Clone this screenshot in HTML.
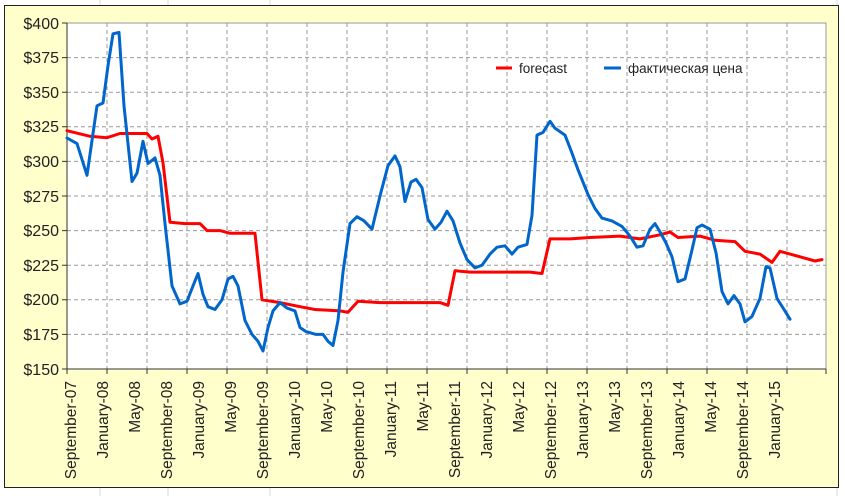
<!DOCTYPE html>
<html><head><meta charset="utf-8"><style>
html,body{margin:0;padding:0;background:#fff;}
svg{display:block;font-family:"Liberation Sans","Noto Sans CJK SC",sans-serif;}
</style></head><body>
<svg width="845" height="496" viewBox="0 0 845 496" xmlns="http://www.w3.org/2000/svg">
<rect x="0" y="0" width="845" height="496" fill="#fff"/>
<g stroke="#d8d8d8" stroke-width="1">
<line x1="100" y1="0" x2="100" y2="496"/><line x1="168" y1="0" x2="168" y2="496"/><line x1="270" y1="0" x2="270" y2="496"/><line x1="837" y1="0" x2="837" y2="496"/>
</g>
<rect x="4.5" y="5.5" width="834" height="482" fill="#FFFFCC" stroke="#222" stroke-width="1"/>
<rect x="67" y="23" width="759" height="346" fill="#fff" stroke="#999" stroke-width="1"/>
<g stroke="#999" stroke-dasharray="4,3" stroke-width="1">
<line x1="67" y1="57.6" x2="826" y2="57.6"/><line x1="67" y1="92.2" x2="826" y2="92.2"/><line x1="67" y1="126.8" x2="826" y2="126.8"/><line x1="67" y1="161.4" x2="826" y2="161.4"/><line x1="67" y1="196" x2="826" y2="196"/><line x1="67" y1="230.6" x2="826" y2="230.6"/><line x1="67" y1="265.2" x2="826" y2="265.2"/><line x1="67" y1="299.8" x2="826" y2="299.8"/><line x1="67" y1="334.4" x2="826" y2="334.4"/>
<line x1="107" y1="23" x2="107" y2="369"/><line x1="147" y1="23" x2="147" y2="369"/><line x1="187" y1="23" x2="187" y2="369"/><line x1="227" y1="23" x2="227" y2="369"/><line x1="267" y1="23" x2="267" y2="369"/><line x1="307" y1="23" x2="307" y2="369"/><line x1="347" y1="23" x2="347" y2="369"/><line x1="387" y1="23" x2="387" y2="369"/><line x1="427" y1="23" x2="427" y2="369"/><line x1="467" y1="23" x2="467" y2="369"/><line x1="507" y1="23" x2="507" y2="369"/><line x1="547" y1="23" x2="547" y2="369"/><line x1="587" y1="23" x2="587" y2="369"/><line x1="627" y1="23" x2="627" y2="369"/><line x1="667" y1="23" x2="667" y2="369"/><line x1="707" y1="23" x2="707" y2="369"/><line x1="747" y1="23" x2="747" y2="369"/><line x1="787" y1="23" x2="787" y2="369"/>
</g>
<g stroke="#333" stroke-width="1">
<line x1="67" y1="23" x2="67" y2="369"/><line x1="67" y1="369" x2="826" y2="369"/>
<path d="M62 23H67M62 57.6H67M62 92.2H67M62 126.8H67M62 161.4H67M62 196H67M62 230.6H67M62 265.2H67M62 299.8H67M62 334.4H67M62 369H67"/>
<path d="M67 369V374M107 369V374M147 369V374M187 369V374M227 369V374M267 369V374M307 369V374M347 369V374M387 369V374M427 369V374M467 369V374M507 369V374M547 369V374M587 369V374M627 369V374M667 369V374M707 369V374M747 369V374M787 369V374M826 369V374"/>
</g>
<g font-size="16" fill="#222" text-anchor="end">
<text x="59" y="29">$400</text><text x="59" y="63">$375</text><text x="59" y="98">$350</text><text x="59" y="132">$325</text><text x="59" y="167">$300</text><text x="59" y="202">$275</text><text x="59" y="236">$250</text><text x="59" y="271">$225</text><text x="59" y="305">$200</text><text x="59" y="340">$175</text><text x="59" y="375">$150</text>
</g>
<g font-size="15.5" fill="#222" text-anchor="end">
<text transform="translate(76,381) rotate(-90)">September-07</text>
<text transform="translate(108,381) rotate(-90)">January-08</text>
<text transform="translate(140,381) rotate(-90)">May-08</text>
<text transform="translate(172,381) rotate(-90)">September-08</text>
<text transform="translate(204,381) rotate(-90)">January-09</text>
<text transform="translate(236,381) rotate(-90)">May-09</text>
<text transform="translate(268,381) rotate(-90)">September-09</text>
<text transform="translate(300,381) rotate(-90)">January-10</text>
<text transform="translate(332,381) rotate(-90)">May-10</text>
<text transform="translate(364,381) rotate(-90)">September-10</text>
<text transform="translate(396,381) rotate(-90)">January-11</text>
<text transform="translate(428,381) rotate(-90)">May-11</text>
<text transform="translate(460,381) rotate(-90)">September-11</text>
<text transform="translate(492,381) rotate(-90)">January-12</text>
<text transform="translate(524,381) rotate(-90)">May-12</text>
<text transform="translate(556,381) rotate(-90)">September-12</text>
<text transform="translate(588,381) rotate(-90)">January-13</text>
<text transform="translate(620,381) rotate(-90)">May-13</text>
<text transform="translate(652,381) rotate(-90)">September-13</text>
<text transform="translate(684,381) rotate(-90)">January-14</text>
<text transform="translate(716,381) rotate(-90)">May-14</text>
<text transform="translate(748,381) rotate(-90)">September-14</text>
<text transform="translate(780,381) rotate(-90)">January-15</text>
</g>
<polyline fill="none" stroke="#ff0000" stroke-width="3" stroke-linejoin="round" stroke-linecap="round"
points="67,130.7 90,136.3 107,137.7 120,133.5 147,133.5 152,139 158,136.3 163,162.8 170,222.3 185,223.6 200,223.6 207,230.6 220,230.6 230,233.3 250,233.3 255,233.3 262,299.8 280,302.6 300,306.7 315,309.5 340,310.9 348,312.3 358,301.2 380,302.6 440,302.6 448,305.3 455,270.7 470,272.1 530,272.1 542,273.5 550,238.9 570,238.9 590,237.5 620,236.1 640,238.9 660,234.8 670,232 678,237.5 700,236.1 715,240.3 735,241.6 745,251.3 760,254.1 772,262.4 780,251.3 800,256.8 815,261 822,259.6"/>
<polyline fill="none" stroke="#0066cc" stroke-width="3" stroke-linejoin="round" stroke-linecap="round"
points="67,138 77,143.6 87,175.3 93,133.5 97,105.8 103,103 108,65.6 113,33.8 119,32.4 124,105.8 132,181.5 137,173.2 143,141.3 148,163.5 155,157.9 160,175.3 165,223.6 172,285.9 180,303.9 187,301.2 193,285.9 198,273.5 203,294.3 208,306.7 215,309.5 222,299.8 228,279 233,276.3 238,285.9 245,320.5 252,334.4 258,341.3 263,351 268,327.5 273,310.9 280,302.6 287,308.1 295,310.9 300,327.5 306,331.6 316,334.4 323,334.4 328,341.3 333,345.5 338,320.5 343,272.1 350,223.6 357,216.7 364,220.8 372,229.2 380,196 388,165.6 395,155.9 400,166.9 405,201.5 411,182.1 416,179.3 422,187.6 428,219.5 435,229.2 441,222.3 447,211.2 453,220.8 460,243 467,259.6 475,267.9 482,265.2 490,254.1 497,247.2 505,245.8 512,254.1 518,247.2 527,244.4 532,215.4 537,135.1 543,132.4 550,121.3 555,128.2 565,135.1 572,153.1 578,169.7 588,194.6 595,208.5 602,218.1 612,220.9 622,226.4 630,236.1 637,247.2 643,245.8 650,229.2 655,223.6 660,231.9 666,243 672,256.8 678,281.7 685,279 692,249.9 697,227.8 702,225 710,229.2 716,252.7 722,291.5 728,303.9 734,295.6 740,303.9 745,321.9 752,316.4 760,298.4 766,266.6 770,267.9 777,298.4 784,309.5 790,319.2"/>
<line x1="496" y1="68" x2="512" y2="68" stroke="#ff0000" stroke-width="3"/>
<text x="519" y="73" font-size="13.5" fill="#222">forecast</text>
<line x1="604" y1="68" x2="621" y2="68" stroke="#0066cc" stroke-width="3"/>
<text x="628" y="73" font-size="13.5" fill="#222">фактическая цена</text>
</svg>
</body></html>
